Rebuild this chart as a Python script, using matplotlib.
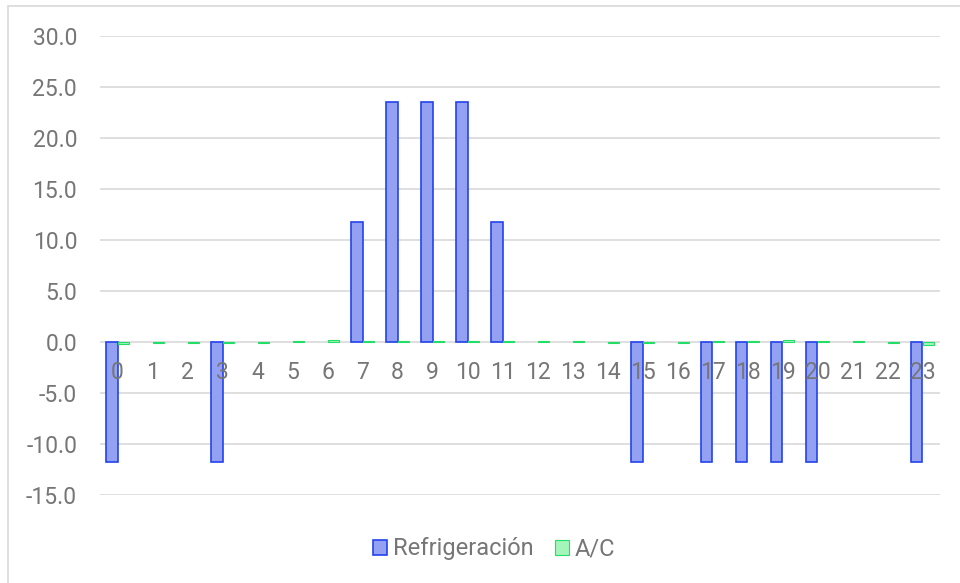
import numpy as np
import matplotlib
matplotlib.use('Agg')
import matplotlib.pyplot as plt
from matplotlib.patches import Rectangle

plt.rcParams['font.family'] = ['Roboto', 'DejaVu Sans']

hours = list(range(24))
refrigeracion = [-11.75, 0, 0, -11.75, 0, 0, 0, 11.75, 23.5, 23.5, 23.5, 11.75,
                 0, 0, 0, -11.75, 0, -11.75, -11.75, -11.75, -11.75, 0, 0, -11.75]
ac = [-0.2, -0.1, -0.1, -0.05, -0.05, 0.05, 0.15, 0.05, 0.05, 0.05, 0.05, 0.05,
      0.05, 0.05, -0.05, -0.05, -0.05, 0.05, 0.05, 0.15, 0.05, 0.05, -0.1, -0.25]
yticks = [-15, -10, -5, 0, 5, 10, 15, 20, 25, 30]

TEXT = '#767676'
GRID = '#d9d9d9'
FS = 16.5

fig = plt.figure(figsize=(9.6, 5.83), dpi=100, facecolor='white')
fig.patches.append(Rectangle((7.5 / 960, -10 / 583), 980 / 960, 587 / 583, transform=fig.transFigure,
                             fill=False, edgecolor=GRID, linewidth=1.2))
ax = fig.add_axes([100 / 960, 88 / 583, 840 / 960, 459 / 583])

x = np.arange(len(hours))
w = 0.34
ref = np.array(refrigeracion, dtype=float)
nz = ref != 0   # Excel draws nothing for zero-height bars
ax.bar(x[nz] - w / 2, ref[nz], w, color='#94a1f2', edgecolor='#2443ee', linewidth=1.2,
       label='Refrigeración', zorder=3)
ax.bar(x + w / 2, ac, w, color='#a3f5ba', edgecolor='#22dd66', linewidth=0.8,
       label='A/C', zorder=3)

ax.set_xlim(-0.5, 23.5)
ax.set_ylim(-15, 30)
ax.set_yticks(yticks)
ax.set_yticklabels([f'{v:.1f}' for v in yticks])
ax.yaxis.grid(True, color=GRID, linewidth=1.2, zorder=0)
ax.set_axisbelow(True)
ax.tick_params(axis='y', length=0, pad=16.5, labelsize=FS, labelcolor=TEXT)
ax.set_xticks([])
for s in ax.spines.values():
    s.set_visible(False)

for i, h in enumerate(hours):
    ax.text(i, -3, str(h), ha='center', va='center', fontsize=FS, color=TEXT, zorder=4)

leg = fig.legend(loc='center', bbox_to_anchor=(494 / 960, 34 / 583), ncol=2, frameon=False,
                 fontsize=17, labelcolor=TEXT, handlelength=0.6, handleheight=0.6,
                 handletextpad=0.25, columnspacing=0.9)

fig.savefig('out.png', dpi=100, facecolor='white')
